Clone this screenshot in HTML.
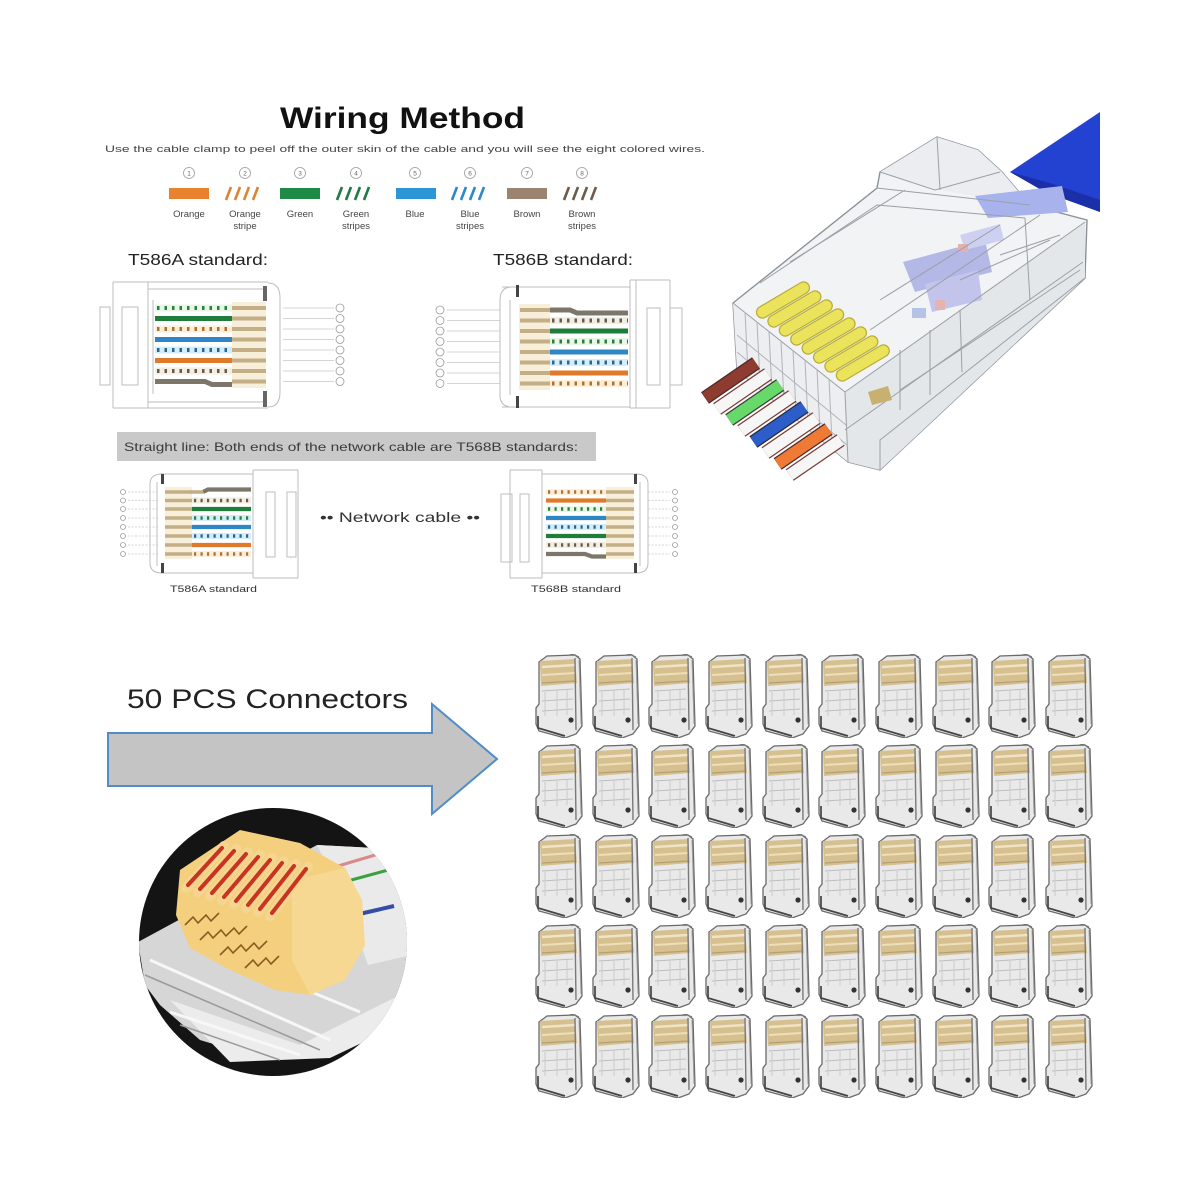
<!DOCTYPE html>
<html>
<head>
<meta charset="utf-8">
<style>
html,body{margin:0;padding:0;background:#fff;}
svg{display:block;}
</style>
</head>
<body>
<svg width="1200" height="1200" viewBox="0 0 1200 1200" xmlns="http://www.w3.org/2000/svg" xmlns:xlink="http://www.w3.org/1999/xlink">
<style>
text{font-family:"Liberation Sans",Arial,sans-serif;}
.fr{fill:none;stroke:#bdbdbd;stroke-width:1}
.w{stroke-width:5}
.w2{stroke-width:4.2}
.g{stroke:#1e7d3a}.b{stroke:#2f86c6}.o{stroke:#e07a2a}.n{stroke:#7d776b}
.sb{stroke-width:7}.sb2{stroke-width:6}
.gb{stroke:#e9f5e6}.bb{stroke:#d3eefa}.ob{stroke:#fbefdc}.nb{stroke:#f3eee4}
.d{stroke-width:4;stroke-dasharray:2.5 5}
.d2{stroke-width:3.5;stroke-dasharray:2.2 4.3}
.dg{stroke:#2b7f3d}.db{stroke:#2a6590}.do{stroke:#b0702e}.dn{stroke:#6b5a45}
.bei{stroke:#c4ae85;stroke-width:4;fill:none}
.bei2{stroke:#c4ae85;stroke-width:3.6;fill:none}
.cl{stroke:#c8c8c8;stroke-width:0.8;fill:none}
.pc{fill:#fff;stroke:#9a9a9a;stroke-width:0.8}
.lab{font-size:9.5px;fill:#444;text-anchor:middle}
.num{font-size:6.5px;fill:#666;text-anchor:middle}
</style>
<defs>
<symbol id="c" viewBox="0 0 50 84" width="50" height="84">
  <path d="M4,8 L12,2 L40,1 L45,5 L47,72 L41,80 L30,84 L4,77 L1,70 L1,54 L4,50 Z" fill="#e9e9e9" stroke="#6a6a6a" stroke-width="1.3"/>
  <path d="M5,7 L40,5 L42,29 L6,32 Z" fill="#d6c08f"/>
  <path d="M7,13 L40,11" stroke="#f0e4c6" stroke-width="2.4"/>
  <path d="M7,21 L40,19" stroke="#eddfba" stroke-width="2"/>
  <path d="M7,29 L40,27" stroke="#b39f74" stroke-width="1.2"/>
  <path d="M40,4 L41,76" stroke="#7a7a7a" stroke-width="1.4" fill="none"/>
  <path d="M44,6 L46,70" stroke="#999" stroke-width="0.9" fill="none"/>
  <path d="M7,37 L38,35 M7,47 L38,45 M7,57 L38,55" stroke="#bdbdbd" stroke-width="1" fill="none"/>
  <path d="M10,38 L10,62 M22,37 L22,62 M32,36 L32,61" stroke="#cbcbcb" stroke-width="1" fill="none"/>
  <path d="M3,62 L3,74 L30,82" stroke="#444" stroke-width="1.7" fill="none"/>
  <circle cx="36" cy="66" r="2.6" fill="#333"/>
  <path d="M34,1 L38,-0 L44,3" stroke="#777" stroke-width="1" fill="none"/>
</symbol>
<clipPath id="cc"><circle cx="273" cy="942" r="134"/></clipPath>
</defs>

<!-- ===== Title ===== -->
<text x="280" y="128" font-size="30" font-weight="bold" fill="#111" textLength="245" lengthAdjust="spacingAndGlyphs">Wiring Method</text>
<text x="105" y="152" font-size="9.5" fill="#444" textLength="600" lengthAdjust="spacingAndGlyphs">Use the cable clamp to peel off the outer skin of the cable and you will see the eight colored wires.</text>

<g>
<circle class="pc" cx="189" cy="173" r="5.5"/><text class="num" x="189" y="175.5">1</text>
<circle class="pc" cx="245" cy="173" r="5.5"/><text class="num" x="245" y="175.5">2</text>
<circle class="pc" cx="300" cy="173" r="5.5"/><text class="num" x="300" y="175.5">3</text>
<circle class="pc" cx="356" cy="173" r="5.5"/><text class="num" x="356" y="175.5">4</text>
<circle class="pc" cx="415" cy="173" r="5.5"/><text class="num" x="415" y="175.5">5</text>
<circle class="pc" cx="470" cy="173" r="5.5"/><text class="num" x="470" y="175.5">6</text>
<circle class="pc" cx="527" cy="173" r="5.5"/><text class="num" x="527" y="175.5">7</text>
<circle class="pc" cx="582" cy="173" r="5.5"/><text class="num" x="582" y="175.5">8</text>
</g>
<rect x="169" y="188" width="40" height="11" fill="#e8822e"/>
<rect x="280" y="188" width="40" height="11" fill="#1f8a45"/>
<rect x="396" y="188" width="40" height="11" fill="#2c95d6"/>
<rect x="507" y="188" width="40" height="11" fill="#9a8470"/>
<g stroke-width="2.6" fill="none">
<path d="M226,200 L231,187 M235,200 L240,187 M244,200 L249,187 M253,200 L258,187" stroke="#d98535"/>
<path d="M337,200 L342,187 M346,200 L351,187 M355,200 L360,187 M364,200 L369,187" stroke="#1f7a45"/>
<path d="M452,200 L457,187 M461,200 L466,187 M470,200 L475,187 M479,200 L484,187" stroke="#2c89c6"/>
<path d="M564,200 L569,187 M573,200 L578,187 M582,200 L587,187 M591,200 L596,187" stroke="#6e5c4a"/>
</g>
<text class="lab" x="189" y="217">Orange</text>
<text class="lab" x="245" y="217">Orange</text><text class="lab" x="245" y="229">stripe</text>
<text class="lab" x="300" y="217">Green</text>
<text class="lab" x="356" y="217">Green</text><text class="lab" x="356" y="229">stripes</text>
<text class="lab" x="415" y="217">Blue</text>
<text class="lab" x="470" y="217">Blue</text><text class="lab" x="470" y="229">stripes</text>
<text class="lab" x="527" y="217">Brown</text>
<text class="lab" x="582" y="217">Brown</text><text class="lab" x="582" y="229">stripes</text>

<text x="128" y="265" font-size="16" fill="#222" textLength="140" lengthAdjust="spacingAndGlyphs">T586A standard:</text>
<text x="493" y="265" font-size="16" fill="#222" textLength="140" lengthAdjust="spacingAndGlyphs">T586B standard:</text>

<!-- ===== Top-left diagram (T586A) ===== -->
<g>
<path class="fr" d="M113 282 H268 M113 408 H268 M113 282 V408 M148 282 V408 M153 300 V394 M148 289 H264 M148 402 H264"/>
<rect class="fr" x="100" y="307" width="10" height="78"/>
<rect class="fr" x="122" y="307" width="16" height="78"/>
<path class="fr" d="M268 283 Q280 283 280 298 V392 Q280 407 268 407"/>
<rect x="263" y="286" width="4" height="15" fill="#666"/>
<rect x="263" y="391" width="4" height="16" fill="#666"/>
<rect x="232" y="302" width="34" height="86" fill="#f7efda"/>
<path class="bei" d="M232 308 H266 M232 318.5 H266 M232 329 H266 M232 339.5 H266 M232 350 H266 M232 360.5 H266 M232 371 H266 M232 381.5 H266"/>
<line class="sb gb" x1="155" y1="308" x2="232" y2="308"/><line class="d dg" x1="157" y1="308" x2="232" y2="308"/>
<line class="w g" x1="155" y1="318.5" x2="232" y2="318.5"/>
<line class="sb ob" x1="155" y1="329" x2="232" y2="329"/><line class="d do" x1="157" y1="329" x2="232" y2="329"/>
<line class="w b" x1="155" y1="339.5" x2="232" y2="339.5"/>
<line class="sb bb" x1="155" y1="350" x2="232" y2="350"/><line class="d db" x1="157" y1="350" x2="232" y2="350"/>
<line class="w o" x1="155" y1="360.5" x2="232" y2="360.5"/>
<line class="sb nb" x1="155" y1="371" x2="232" y2="371"/><line class="d dn" x1="157" y1="371" x2="232" y2="371"/>
<path class="n" d="M155 381.5 H205 L212 384.5 H232" stroke-width="5" fill="none"/>
<path class="cl" d="M283 308 H334 M283 318.5 H334 M283 329 H334 M283 339.5 H334 M283 350 H334 M283 360.5 H334 M283 371 H334 M283 381.5 H334"/>
<g>
<circle class="pc" cx="340" cy="308" r="4"/><circle class="pc" cx="340" cy="318.5" r="4"/><circle class="pc" cx="340" cy="329" r="4"/><circle class="pc" cx="340" cy="339.5" r="4"/>
<circle class="pc" cx="340" cy="350" r="4"/><circle class="pc" cx="340" cy="360.5" r="4"/><circle class="pc" cx="340" cy="371" r="4"/><circle class="pc" cx="340" cy="381.5" r="4"/>
</g>
</g>

<!-- ===== Top-right diagram (T586B) ===== -->
<g>
<path class="fr" d="M502 287 H630 M502 407 H630 M630 280 V408 M636 280 V408 M630 280 H670 M630 408 H670 M670 280 V408 M510 300 V395"/>
<path class="fr" d="M512 287 Q500 287 500 300 V395 Q500 407 512 407"/>
<rect class="fr" x="647" y="308" width="13" height="77"/>
<rect class="fr" x="670" y="308" width="12" height="77"/>
<rect x="516" y="285" width="3" height="12" fill="#444"/>
<rect x="516" y="396" width="3" height="12" fill="#444"/>
<rect x="519" y="304" width="31" height="86" fill="#f7efda"/>
<path class="bei" d="M520 310 H550 M520 320.5 H550 M520 331 H550 M520 341.5 H550 M520 352 H550 M520 362.5 H550 M520 373 H550 M520 383.5 H550"/>
<path class="n" d="M550 310 H570 L577 313 H628" stroke-width="5" fill="none"/>
<line class="sb nb" x1="550" y1="320.5" x2="628" y2="320.5"/><line class="d dn" x1="552" y1="320.5" x2="628" y2="320.5"/>
<line class="w g" x1="550" y1="331" x2="628" y2="331"/>
<line class="sb gb" x1="550" y1="341.5" x2="628" y2="341.5"/><line class="d dg" x1="552" y1="341.5" x2="628" y2="341.5"/>
<line class="w b" x1="550" y1="352" x2="628" y2="352"/>
<line class="sb bb" x1="550" y1="362.5" x2="628" y2="362.5"/><line class="d db" x1="552" y1="362.5" x2="628" y2="362.5"/>
<line class="w o" x1="550" y1="373" x2="628" y2="373"/>
<line class="sb ob" x1="550" y1="383.5" x2="628" y2="383.5"/><line class="d do" x1="552" y1="383.5" x2="628" y2="383.5"/>
<path class="cl" d="M447 310 H500 M447 320.5 H500 M447 331 H500 M447 341.5 H500 M447 352 H500 M447 362.5 H500 M447 373 H500 M447 383.5 H500"/>
<g>
<circle class="pc" cx="440" cy="310" r="4"/><circle class="pc" cx="440" cy="320.5" r="4"/><circle class="pc" cx="440" cy="331" r="4"/><circle class="pc" cx="440" cy="341.5" r="4"/>
<circle class="pc" cx="440" cy="352" r="4"/><circle class="pc" cx="440" cy="362.5" r="4"/><circle class="pc" cx="440" cy="373" r="4"/><circle class="pc" cx="440" cy="383.5" r="4"/>
</g>
</g>

<!-- ===== Gray bar ===== -->
<rect x="117" y="432" width="479" height="29" fill="#c9c9c9"/>
<text x="124" y="451" font-size="12" fill="#3a3a3a" textLength="454" lengthAdjust="spacingAndGlyphs">Straight line: Both ends of the network cable are T568B standards:</text>

<!-- ===== Bottom-left diagram ===== -->
<g>
<path class="fr" d="M160 474 H253 M160 573 H253 M253 470 V578 M253 470 H298 M253 578 H298 M298 470 V578 M157 482 V566"/>
<path class="fr" d="M162 474 Q150 474 150 484 V563 Q150 573 162 573"/>
<rect class="fr" x="266" y="492" width="9" height="65"/>
<rect class="fr" x="287" y="492" width="9" height="65"/>
<rect x="161" y="474" width="3" height="10" fill="#444"/>
<rect x="161" y="563" width="3" height="10" fill="#444"/>
<rect x="165" y="487" width="27" height="72" fill="#f7efda"/>
<path class="bei2" d="M165 492 H192 M165 500.5 H192 M165 509 H192 M165 518 H192 M165 527 H192 M165 536 H192 M165 545 H192 M165 554 H192"/>
<path class="n" d="M203 492 L208 489.5 H251" stroke-width="4.2" fill="none"/>
<path class="bei2" d="M190 492 H203"/>
<line class="sb2 nb" x1="192" y1="500.5" x2="251" y2="500.5"/><line class="d2 dn" x1="194" y1="500.5" x2="251" y2="500.5"/>
<line class="w2 g" x1="192" y1="509" x2="251" y2="509"/>
<line class="sb2 bb" x1="192" y1="518" x2="251" y2="518"/><line class="d2 dg" x1="194" y1="518" x2="251" y2="518"/>
<line class="w2 b" x1="192" y1="527" x2="251" y2="527"/>
<line class="sb2 bb" x1="192" y1="536" x2="251" y2="536"/><line class="d2 db" x1="194" y1="536" x2="251" y2="536"/>
<line class="w2 o" x1="192" y1="545" x2="251" y2="545"/>
<line class="sb2 ob" x1="192" y1="554" x2="251" y2="554"/><line class="d2 do" x1="194" y1="554" x2="251" y2="554"/>
<path class="cl" stroke-dasharray="2 1.5" d="M128 492 H158 M128 500.5 H158 M128 509 H158 M128 518 H158 M128 527 H158 M128 536 H158 M128 545 H158 M128 554 H158"/>
<g fill="none" stroke="#999" stroke-width="0.8">
<circle cx="123" cy="492" r="2.5"/><circle cx="123" cy="500.5" r="2.5"/><circle cx="123" cy="509" r="2.5"/><circle cx="123" cy="518" r="2.5"/>
<circle cx="123" cy="527" r="2.5"/><circle cx="123" cy="536" r="2.5"/><circle cx="123" cy="545" r="2.5"/><circle cx="123" cy="554" r="2.5"/>
</g>
</g>
<text x="320" y="522" font-size="14" fill="#333" textLength="160" lengthAdjust="spacingAndGlyphs">•• Network cable ••</text>

<!-- ===== Bottom-right diagram ===== -->
<g>
<path class="fr" d="M542 474 H636 M542 573 H636 M542 470 V578 M510 470 H542 M510 578 H542 M510 470 V578 M640 482 V566"/>
<path class="fr" d="M636 474 Q648 474 648 484 V563 Q648 573 636 573"/>
<rect class="fr" x="501" y="494" width="11" height="68"/>
<rect class="fr" x="520" y="494" width="9" height="68"/>
<rect x="634" y="474" width="3" height="10" fill="#444"/>
<rect x="634" y="563" width="3" height="10" fill="#444"/>
<rect x="606" y="487" width="28" height="72" fill="#f7efda"/>
<path class="bei2" d="M606 492 H634 M606 500.5 H634 M606 509 H634 M606 518 H634 M606 527 H634 M606 536 H634 M606 545 H634 M606 554 H634"/>
<line class="sb2 ob" x1="546" y1="492" x2="606" y2="492"/><line class="d2 do" x1="548" y1="492" x2="606" y2="492"/>
<line class="w2 o" x1="546" y1="500.5" x2="606" y2="500.5"/>
<line class="sb2 gb" x1="546" y1="509" x2="606" y2="509"/><line class="d2 dg" x1="548" y1="509" x2="606" y2="509"/>
<line class="w2 b" x1="546" y1="518" x2="606" y2="518"/>
<line class="sb2 bb" x1="546" y1="527" x2="606" y2="527"/><line class="d2 db" x1="548" y1="527" x2="606" y2="527"/>
<line class="w2 g" x1="546" y1="536" x2="606" y2="536"/>
<line class="sb2 nb" x1="546" y1="545" x2="606" y2="545"/><line class="d2 dn" x1="548" y1="545" x2="606" y2="545"/>
<path class="n" d="M546 554 H585 L592 556.5 H606" stroke-width="4.2" fill="none"/>
<path class="cl" stroke-dasharray="2 1.5" d="M648 492 H670 M648 500.5 H670 M648 509 H670 M648 518 H670 M648 527 H670 M648 536 H670 M648 545 H670 M648 554 H670"/>
<g fill="none" stroke="#999" stroke-width="0.8">
<circle cx="675" cy="492" r="2.5"/><circle cx="675" cy="500.5" r="2.5"/><circle cx="675" cy="509" r="2.5"/><circle cx="675" cy="518" r="2.5"/>
<circle cx="675" cy="527" r="2.5"/><circle cx="675" cy="536" r="2.5"/><circle cx="675" cy="545" r="2.5"/><circle cx="675" cy="554" r="2.5"/>
</g>
</g>
<text x="170" y="592" font-size="9.5" fill="#333" textLength="87" lengthAdjust="spacingAndGlyphs">T586A standard</text>
<text x="531" y="592" font-size="9.5" fill="#333" textLength="90" lengthAdjust="spacingAndGlyphs">T568B standard</text>

<!-- ===== Top-right connector ===== -->
<g>
<polygon points="1100,112 1100,212 1045,192 1010,172" fill="#2442d2"/>
<polygon points="1010,172 1045,192 1100,212 1100,200 1050,183" fill="#1b30a8"/>
<path d="M733,303 L877,188 L880,172 L937,137 L978,150 L1002,172 L1030,205 L1087,220 L1085,278 L880,470 L848,462 L737,370 Z" fill="#f1f3f5" stroke="#8c9198" stroke-width="1.4"/>
<!-- face shading -->
<polygon points="845,392 1085,222 1085,278 880,470 848,462" fill="#e4e7ea"/>
<polygon points="733,303 845,392 848,462 737,370" fill="#eceef0"/>
<polygon points="880,172 937,137 978,150 1002,172 1030,205 940,190" fill="#ebedf0"/>
<!-- lavender cable inside -->
<polygon points="975,196 1062,186 1068,212 988,218" fill="#a8b2ec"/>
<polygon points="903,262 985,240 992,272 915,292" fill="#b4b8e6"/>
<polygon points="925,284 978,270 982,300 932,312" fill="#c2c4ec"/>
<polygon points="960,235 1000,224 1004,240 965,250" fill="#cdd0f0"/>
<rect x="958" y="244" width="10" height="8" fill="#e3b0b0"/>
<rect x="935" y="300" width="10" height="10" fill="#e6b3b3"/>
<rect x="912" y="308" width="14" height="10" fill="#b5c4e6"/>
<!-- internal edges -->
<g fill="none" stroke="#9aa0a6" stroke-width="1">
<path d="M733,303 L845,392 L848,462"/>
<path d="M845,392 L1085,222"/>
<path d="M760,283 L877,205 L1025,218"/>
<path d="M877,188 L1030,205"/>
<path d="M880,172 L935,190 L1000,172"/>
<path d="M937,137 L940,190"/>
<path d="M845,430 L1083,262"/>
<path d="M790,262 L905,190"/>
<path d="M870,330 L1040,215"/>
<path d="M880,300 L1000,225"/>
<path d="M900,390 L1080,270"/>
<path d="M960,280 L1050,240"/>
<path d="M1025,218 L1030,300"/>
<path d="M880,470 L880,440 L1085,278"/>
<path d="M900,350 L900,410 M930,330 L930,395 M960,310 L962,372"/>
<path d="M1000,255 L1060,235"/>
</g>
<!-- front grid -->
<g fill="none" stroke="#b0b4ba" stroke-width="1">
<path d="M745,312 L748,372 M757,322 L760,382 M769,331 L772,392 M781,341 L784,402 M793,350 L796,412 M805,360 L808,422 M817,369 L820,432 M829,379 L832,442"/>
<path d="M737,335 L846,425 M737,352 L847,445"/>
</g>
<!-- yellow contacts -->
<g stroke-linecap="round" fill="none">
<g stroke="#b9ad3a" stroke-width="13">
<path d="M762.4,312.2 L803.6,287.8"/><path d="M773.8,321.2 L815,296.8"/><path d="M785.2,330.2 L826.4,305.8"/><path d="M796.6,339.2 L837.8,314.8"/>
<path d="M808,348.2 L849.2,323.8"/><path d="M819.4,357.2 L860.6,332.8"/><path d="M830.8,366.2 L872,341.8"/><path d="M842.2,375.2 L883.4,350.8"/>
</g>
<g stroke="#ece35c" stroke-width="10.5">
<path d="M762.4,312.2 L803.6,287.8"/><path d="M773.8,321.2 L815,296.8"/><path d="M785.2,330.2 L826.4,305.8"/><path d="M796.6,339.2 L837.8,314.8"/>
<path d="M808,348.2 L849.2,323.8"/><path d="M819.4,357.2 L860.6,332.8"/><path d="M830.8,366.2 L872,341.8"/><path d="M842.2,375.2 L883.4,350.8"/>
</g>
</g>
<polygon points="868,392 888,386 892,400 872,405" fill="#c8b070"/>
<!-- wires -->
<g fill="none">
<path d="M705,398 L756,363" stroke="#4a2a2a" stroke-width="14"/><path d="M705,398 L756,363" stroke="#8e3b30" stroke-width="11.5"/>
<path d="M717.1,409 L768.1,374" stroke="#7a3a35" stroke-width="14"/><path d="M717.1,409 L768.1,374" stroke="#f6f6f6" stroke-width="11.5"/>
<path d="M729.2,420 L780.2,385" stroke="#3a3a3a" stroke-width="14"/><path d="M729.2,420 L780.2,385" stroke="#67d96a" stroke-width="11.5"/>
<path d="M741.3,431 L792.3,396" stroke="#7a3a35" stroke-width="14"/><path d="M741.3,431 L792.3,396" stroke="#f6f6f6" stroke-width="11.5"/>
<path d="M753.4,442 L804.4,407" stroke="#2a2a3a" stroke-width="14"/><path d="M753.4,442 L804.4,407" stroke="#2c5dc9" stroke-width="11.5"/>
<path d="M765.5,453 L816.5,418" stroke="#7a3a35" stroke-width="14"/><path d="M765.5,453 L816.5,418" stroke="#f6f6f6" stroke-width="11.5"/>
<path d="M777.6,464 L828.6,429" stroke="#4a2a2a" stroke-width="14"/><path d="M777.6,464 L828.6,429" stroke="#ee7a35" stroke-width="11.5"/>
<path d="M789.7,475 L840.7,440" stroke="#7a3a35" stroke-width="14"/><path d="M789.7,475 L840.7,440" stroke="#f6f6f6" stroke-width="11.5"/>
</g>
</g>

<!-- ===== 50 PCS arrow ===== -->
<text x="127" y="708" font-size="27" fill="#222" textLength="281" lengthAdjust="spacingAndGlyphs">50 PCS Connectors</text>
<path d="M108,733 L432,733 L432,704 L497,759 L432,814 L432,786 L108,786 Z" fill="#c4c4c4" stroke="#4f8cc8" stroke-width="2"/>

<!-- ===== Circle close-up ===== -->
<g clip-path="url(#cc)">
<rect x="130" y="800" width="290" height="290" fill="#141414"/>
<polygon points="138,942 317,845 412,850 412,1000 370,1035 320,1055 260,1058 200,1040 160,1005 145,985" fill="#d6d6d6"/>
<polygon points="170,1000 300,1045 400,995 410,1020 330,1058 230,1062" fill="#ececec"/>
<polygon points="317,845 412,850 412,955 368,965 345,900" fill="#eaeaea"/>
<path d="M338,866 L382,853" stroke="#d98b8b" stroke-width="3"/>
<path d="M344,882 L392,869" stroke="#3aa040" stroke-width="3"/>
<path d="M355,915 L394,906" stroke="#344ea8" stroke-width="4"/>
<path d="M150,960 L330,1040 M170,1012 L300,1055 M205,948 L360,1012" stroke="#f7f7f7" stroke-width="3" fill="none"/>
<path d="M145,975 L320,1050 M180,1025 L280,1060" stroke="#9a9a9a" stroke-width="1.5" fill="none"/>
<polygon points="180,870 240,830 300,843 345,868 362,900 365,945 345,980 310,995 275,990 230,970 190,948 176,915" fill="#f3cf7e"/>
<polygon points="292,880 345,868 362,900 365,945 345,980 310,995 292,960" fill="#f6d892"/>
<g stroke-linecap="round" fill="none">
<g stroke="#f5d590" stroke-width="10">
<path d="M186,888 L224,846"/><path d="M198,892 L236,849"/><path d="M210,896 L248,852"/><path d="M222,900 L260,855"/>
<path d="M234,904 L272,858"/><path d="M246,908 L284,861"/><path d="M258,912 L296,864"/><path d="M270,916 L308,867"/>
</g>
<g stroke="#c8341f" stroke-width="4">
<path d="M188,885 L222,848"/><path d="M200,889 L234,851"/><path d="M212,893 L246,854"/><path d="M224,897 L258,857"/>
<path d="M236,901 L270,860"/><path d="M248,905 L282,863"/><path d="M260,909 L294,866"/><path d="M272,913 L306,869"/>
</g>
</g>
<g stroke="#8a5a20" stroke-width="1.6" fill="none">
<path d="M185,925 l8,-8 l5,6 l8,-8 l5,6 l8,-8"/>
<path d="M200,940 l8,-8 l5,6 l8,-8 l5,6 l8,-8 l5,6 l8,-8"/>
<path d="M220,955 l8,-8 l5,6 l8,-8 l5,6 l8,-8 l5,6 l8,-8"/>
<path d="M245,968 l8,-8 l5,6 l8,-8 l5,6 l8,-8"/>
</g>
</g>

<!-- ===== Grid of 50 connectors ===== -->
<g>
<use href="#c" xlink:href="#c" x="535" y="654"/><use href="#c" xlink:href="#c" x="592" y="654"/><use href="#c" xlink:href="#c" x="648" y="654"/><use href="#c" xlink:href="#c" x="705" y="654"/><use href="#c" xlink:href="#c" x="762" y="654"/>
<use href="#c" xlink:href="#c" x="818" y="654"/><use href="#c" xlink:href="#c" x="875" y="654"/><use href="#c" xlink:href="#c" x="932" y="654"/><use href="#c" xlink:href="#c" x="988" y="654"/><use href="#c" xlink:href="#c" x="1045" y="654"/>
<use href="#c" xlink:href="#c" x="535" y="744"/><use href="#c" xlink:href="#c" x="592" y="744"/><use href="#c" xlink:href="#c" x="648" y="744"/><use href="#c" xlink:href="#c" x="705" y="744"/><use href="#c" xlink:href="#c" x="762" y="744"/>
<use href="#c" xlink:href="#c" x="818" y="744"/><use href="#c" xlink:href="#c" x="875" y="744"/><use href="#c" xlink:href="#c" x="932" y="744"/><use href="#c" xlink:href="#c" x="988" y="744"/><use href="#c" xlink:href="#c" x="1045" y="744"/>
<use href="#c" xlink:href="#c" x="535" y="834"/><use href="#c" xlink:href="#c" x="592" y="834"/><use href="#c" xlink:href="#c" x="648" y="834"/><use href="#c" xlink:href="#c" x="705" y="834"/><use href="#c" xlink:href="#c" x="762" y="834"/>
<use href="#c" xlink:href="#c" x="818" y="834"/><use href="#c" xlink:href="#c" x="875" y="834"/><use href="#c" xlink:href="#c" x="932" y="834"/><use href="#c" xlink:href="#c" x="988" y="834"/><use href="#c" xlink:href="#c" x="1045" y="834"/>
<use href="#c" xlink:href="#c" x="535" y="924"/><use href="#c" xlink:href="#c" x="592" y="924"/><use href="#c" xlink:href="#c" x="648" y="924"/><use href="#c" xlink:href="#c" x="705" y="924"/><use href="#c" xlink:href="#c" x="762" y="924"/>
<use href="#c" xlink:href="#c" x="818" y="924"/><use href="#c" xlink:href="#c" x="875" y="924"/><use href="#c" xlink:href="#c" x="932" y="924"/><use href="#c" xlink:href="#c" x="988" y="924"/><use href="#c" xlink:href="#c" x="1045" y="924"/>
<use href="#c" xlink:href="#c" x="535" y="1014"/><use href="#c" xlink:href="#c" x="592" y="1014"/><use href="#c" xlink:href="#c" x="648" y="1014"/><use href="#c" xlink:href="#c" x="705" y="1014"/><use href="#c" xlink:href="#c" x="762" y="1014"/>
<use href="#c" xlink:href="#c" x="818" y="1014"/><use href="#c" xlink:href="#c" x="875" y="1014"/><use href="#c" xlink:href="#c" x="932" y="1014"/><use href="#c" xlink:href="#c" x="988" y="1014"/><use href="#c" xlink:href="#c" x="1045" y="1014"/>
</g>
</svg>
</body>
</html>
